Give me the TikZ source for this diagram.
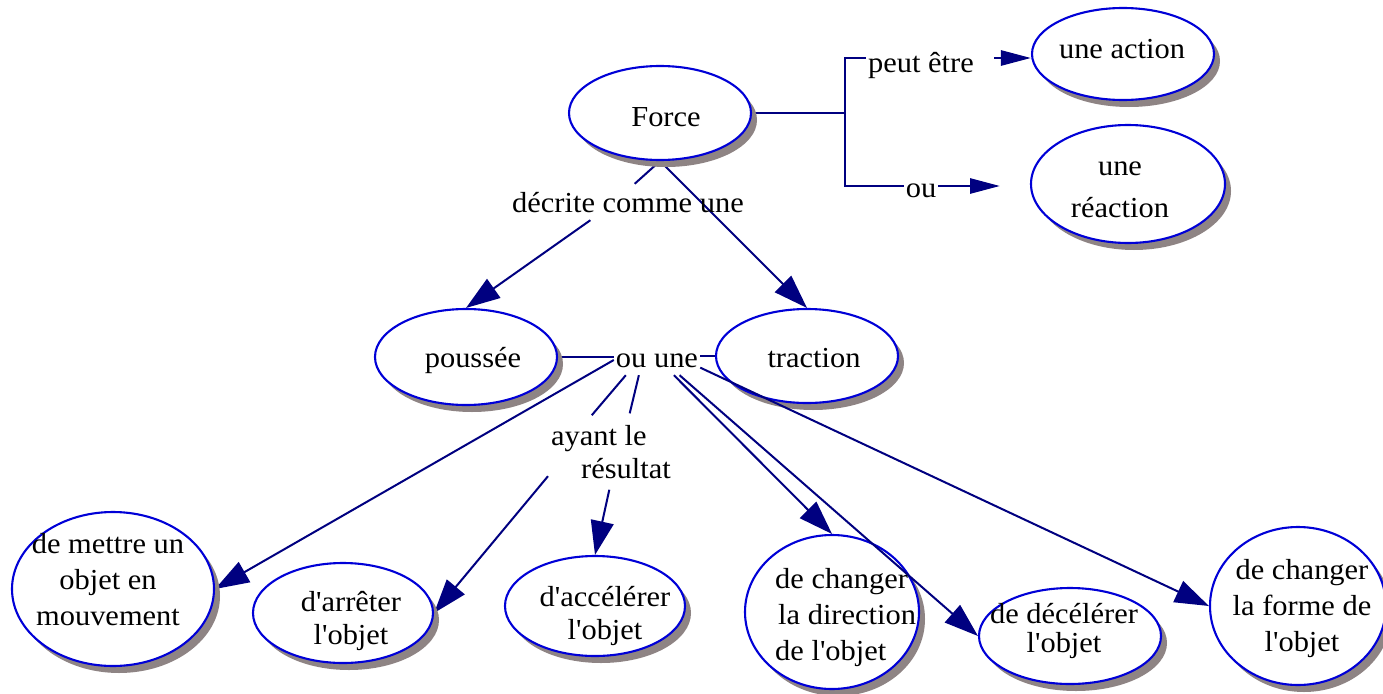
\documentclass[tikz,border=0pt]{standalone}
\usepackage{fontspec}
\setmainfont{Liberation Serif}[FakeStretch=1.05, Ligatures=TeXOff]
\usetikzlibrary{shapes.geometric,shadows,arrows.meta}
\definecolor{cblue}{RGB}{0,0,215}
\definecolor{lnavy}{RGB}{0,0,128}
\definecolor{shgray}{RGB}{142,132,132}
\pgfdeclarelayer{bottom}
\pgfdeclarelayer{background}
\pgfsetlayers{bottom,background,main}
\begin{document}
\begin{tikzpicture}[x=1pt,y=-1pt,
  concept/.style={ellipse, draw=cblue, line width=2.1pt, fill=white, inner sep=0pt,
    drop shadow={shadow xshift=6pt, shadow yshift=-7pt, fill=shgray, opacity=1, draw=none}},
  ctext/.style={inner sep=0pt, align=center, font=\fontsize{29}{36}\selectfont},
  lbl/.style={inner sep=2pt, font=\fontsize{29}{33}\selectfont, text height=20pt, text depth=6pt},
  lbltwo/.style={inner sep=3pt, align=left, font=\fontsize{29}{33}\selectfont},
  link/.style={draw=lnavy, line width=2pt},
  thicklink/.style={draw=lnavy, line width=2.8pt},
  arr/.style={link, -{Triangle[length=34pt,width=23pt]}},
  arrsmall/.style={thicklink, -{Triangle[length=30pt,width=15pt]}},
]
\begin{pgfonlayer}{bottom}
\fill[white] (0,0) rectangle (1383,693);
\end{pgfonlayer}
\useasboundingbox (0,0) rectangle (1383,693);

% concepts
\node[concept, minimum width=182pt, minimum height=94pt] (force) at (660,113) {};
\node[concept, minimum width=182pt, minimum height=92pt] (action) at (1123,54) {};
\node[concept, minimum width=194pt, minimum height=118pt] (reaction) at (1128,184) {};
\node[concept, minimum width=182pt, minimum height=96pt] (poussee) at (466,357) {};
\node[concept, minimum width=182pt, minimum height=94pt] (traction) at (807,356) {};
\node[concept, minimum width=202pt, minimum height=154pt] (mettre) at (113,589) {};
\node[concept, minimum width=180pt, minimum height=100pt] (arreter) at (343,613) {};
\node[concept, minimum width=180pt, minimum height=100pt] (accel) at (595,606) {};
\node[concept, minimum width=174pt, minimum height=154pt] (direction) at (832,612) {};
\node[concept, minimum width=182pt, minimum height=96pt] (decel) at (1070,636) {};
\node[concept, minimum width=176pt, minimum height=158pt] (forme) at (1298,606) {};

% concept texts
\node[ctext, anchor=base] (tforce) at (666,126) {Force};
\node[ctext, anchor=base] (taction) at (1122,59) {une action};
\node[ctext] (treaction) at (1120,190) {une\\[6pt]réaction};
\node[ctext, anchor=base] (tpoussee) at (473,367) {poussée};
\node[ctext, anchor=base] (ttraction) at (814,367) {traction};
\node[ctext] (tmettre) at (108,580) {de mettre un\\objet en\\mouvement};
\node[ctext] (tarreter) at (351,621) {d'arrêter\\[-3pt]l'objet};
\node[ctext] (taccel) at (605,616) {d'accélérer\\[-3pt]l'objet};
\node[ctext, align=left, anchor=west] (tdirection) at (775,618) {de changer\\\hspace{3pt}la direction\\de l'objet};
\node[ctext] (tdecel) at (1064,631) {de décélérer\\[-7pt]l'objet};
\node[ctext] (tforme) at (1302,609) {de changer\\la forme de\\l'objet};

% linking phrases
\node[lbl, anchor=base] (peut) at (921,73) {peut être};
\node[lbl, anchor=base] (ou) at (921,197) {ou};
\node[lbl, anchor=base] (decrite) at (628,212) {décrite comme une};
\node[lbl, anchor=base] (ouune) at (657,367) {ou une};
\node[lbltwo, anchor=west] (ayant) at (548,452) {ayant le\\\hspace{30pt}résultat};

\coordinate (bartop) at (845,58);
\coordinate (barbot) at (845,186);
\coordinate (ouend) at (1000,186);

\begin{pgfonlayer}{background}
\draw[thicklink] (force.east) -- (force.east -| bartop);
\draw[thicklink, line cap=rect] (bartop) -- (barbot);
\draw[thicklink] (bartop) -- (bartop -| peut.west);
\draw[thicklink] (barbot) -- (barbot -| ou.west);
\draw[link, shorten >=9pt] (force.south) -- (decrite.north);
\draw[arr] (force.south) -- (traction.north);
\draw[arr] (decrite.-158) -- (poussee.north);
\draw[thicklink] (poussee.east) -- (poussee.east -| ouune.west);
\draw[thicklink] (traction.west) -- (traction.west -| ouune.east);
\draw[arr] (ouune.west) -- (mettre.east);
\draw[arr] (ayant.-159) -- (arreter.east);
\end{pgfonlayer}

\draw[arrsmall, shorten <=18pt] (peut.east |- bartop) -- (action.west |- bartop);
\draw[arrsmall] (ou.east |- barbot) -- (ouend);
\draw[link, shorten >=9pt] (ouune.-154) -- (ayant.130);
\draw[link, shorten >=9pt] (ouune.-140) -- (ayant.61);
\draw[arr, shorten <=8pt] (ayant.south) -- (accel.north);
\draw[arr] (ouune.-42) -- (direction.north);
\draw[arr] (ouune.-34) -- (decel.west);
\draw[arr] (ouune.-10) -- (forme.west);
\end{tikzpicture}
\end{document}
